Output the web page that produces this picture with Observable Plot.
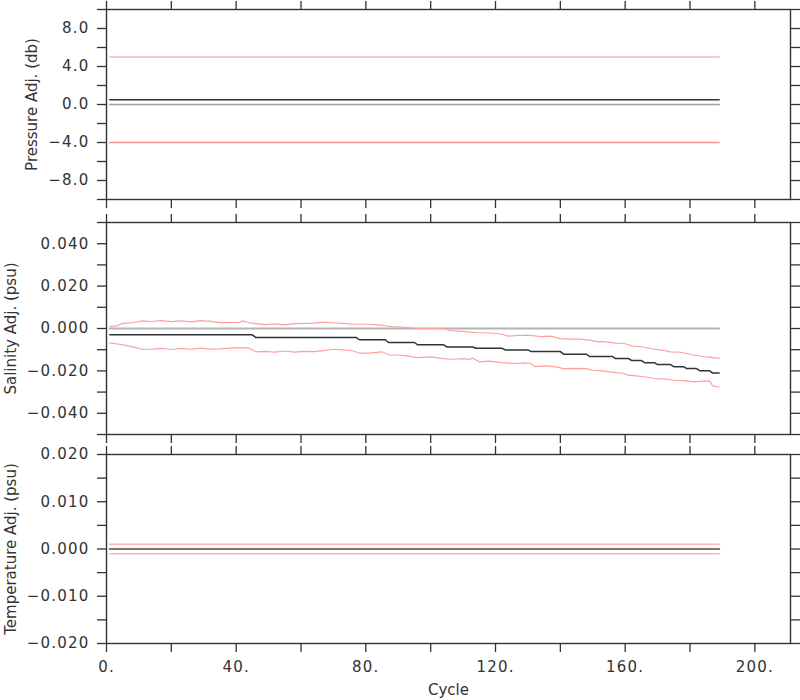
<!DOCTYPE html>
<html>
<head>
<meta charset="utf-8">
<script src="https://cdn.jsdelivr.net/npm/d3@7"></script>
<script src="https://cdn.jsdelivr.net/npm/@observablehq/plot@0.6"></script>
<style>
  html, body { margin: 0; padding: 0; background: #fff; }
  #wrap { position: relative; width: 800px; height: 700px; overflow: hidden; }
  .panel { position: absolute; left: 0; }
  .panel svg { display: block; }
  #wrap g[aria-label="y-axis tick label"] text,
  #wrap g[aria-label="x-axis tick label"] text { font-size: 15px !important; letter-spacing: 1.2px; }
  #wrap g[aria-label="axis-title"] text { font-size: 15px !important; }
</style>
</head>
<body>
<div id="wrap">
  <div class="panel" id="p1" style="top:0px"></div>
  <div class="panel" id="p2" style="top:209px"></div>
  <div class="panel" id="p3" style="top:444px"></div>
</div>
<script>
// ---------- data ----------
const cycleSpan = [1, 189];
const xTicks = [0, 20, 40, 60, 80, 100, 120, 140, 160, 180, 200];
const xLabelTicks = [0, 40, 80, 120, 160, 200];

// Pressure panel
const pressureZero = [0, 0];
const pressureAdj = [0.5, 0.5];
const pressureUpper = [5, 5];
const pressureLower = [-4, -4];
const pressureTicks = [-10, -8, -6, -4, -2, 0, 2, 4, 6, 8, 10];
const pressureLabels = [-8, -4, 0, 4, 8];

// Salinity panel
const salAdjCycles = [1, 45, 46, 77, 78, 86, 87, 95, 96, 104, 105, 113, 114, 122, 123, 130, 131, 140, 141, 148, 149, 156, 157, 161, 162, 165, 166, 169, 170, 174, 175, 178, 179, 182, 183, 186, 187, 189];
const salAdj = [-0.0030, -0.0030, -0.0042, -0.0042, -0.0053, -0.0053, -0.0066, -0.0066, -0.0077, -0.0077, -0.0087, -0.0087, -0.0093, -0.0093, -0.0101, -0.0101, -0.0109, -0.0109, -0.0121, -0.0121, -0.0132, -0.0132, -0.0142, -0.0142, -0.0151, -0.0151, -0.0161, -0.0161, -0.0170, -0.0170, -0.0180, -0.0180, -0.0189, -0.0189, -0.0199, -0.0199, -0.0210, -0.0210];

const salUpperCycles = [1, 3, 5, 8, 11, 14, 17, 20, 23, 26, 29, 32, 35, 38, 41, 42, 44, 46, 49, 52, 55, 58, 61, 64, 67, 70, 73, 76, 80, 84, 86, 88, 92, 96, 100, 104, 106, 110, 114, 118, 122, 124, 127, 130, 134, 137, 140, 143, 146, 149, 151, 154, 157, 160, 162, 165, 169, 172, 174, 177, 179, 181, 184, 186, 188, 189];
const salUpper = [0.0009, 0.0012, 0.0024, 0.0027, 0.0036, 0.0033, 0.0037, 0.0032, 0.0036, 0.0031, 0.0037, 0.0034, 0.0028, 0.0028, 0.0029, 0.0036, 0.0027, 0.0023, 0.0018, 0.0022, 0.0017, 0.0023, 0.0024, 0.0025, 0.0030, 0.0027, 0.0024, 0.0021, 0.0020, 0.0017, 0.0013, 0.0009, 0.0006, 0.0000, 0.0000, 0.0000, -0.0010, -0.0014, -0.0019, -0.0020, -0.0027, -0.0036, -0.0033, -0.0031, -0.0038, -0.0036, -0.0048, -0.0050, -0.0050, -0.0055, -0.0061, -0.0063, -0.0069, -0.0072, -0.0082, -0.0086, -0.0098, -0.0103, -0.0110, -0.0112, -0.0118, -0.0125, -0.0132, -0.0135, -0.0140, -0.0140];

const salLowerCycles = [1, 3, 6, 9, 11, 14, 17, 20, 23, 26, 29, 32, 35, 38, 42, 44, 46, 49, 52, 55, 58, 61, 64, 67, 70, 73, 76, 78, 82, 85, 87, 90, 93, 96, 100, 104, 107, 110, 112, 113, 115, 118, 122, 126, 129, 131, 132, 136, 139, 141, 145, 148, 150, 153, 157, 159, 161, 164, 167, 169, 172, 175, 178, 181, 183, 186, 187, 189];
const salLower = [-0.0069, -0.0072, -0.0080, -0.0090, -0.0098, -0.0097, -0.0094, -0.0099, -0.0094, -0.0098, -0.0093, -0.0097, -0.0096, -0.0093, -0.0090, -0.0093, -0.0110, -0.0108, -0.0111, -0.0106, -0.0111, -0.0108, -0.0109, -0.0104, -0.0098, -0.0101, -0.0105, -0.0117, -0.0115, -0.0110, -0.0124, -0.0125, -0.0130, -0.0137, -0.0134, -0.0142, -0.0145, -0.0142, -0.0146, -0.0140, -0.0157, -0.0154, -0.0161, -0.0165, -0.0162, -0.0165, -0.0180, -0.0176, -0.0182, -0.0189, -0.0188, -0.0189, -0.0197, -0.0200, -0.0208, -0.0210, -0.0220, -0.0225, -0.0230, -0.0236, -0.0238, -0.0244, -0.0246, -0.0252, -0.0249, -0.0247, -0.0271, -0.0276];
const salZero = [0, 0];
const salTicks = [-0.05, -0.04, -0.03, -0.02, -0.01, 0, 0.01, 0.02, 0.03, 0.04, 0.05];
const salLabels = [-0.04, -0.02, 0, 0.02, 0.04];

// Temperature panel
const tempZero = [0, 0];
const tempAdj = [0, 0];
const tempUpper = [0.001, 0.001];
const tempLower = [-0.001, -0.001];
const tempTicks = [-0.020, -0.015, -0.010, -0.005, 0, 0.005, 0.010, 0.015, 0.020];
const tempLabels = [-0.02, -0.01, 0, 0.01, 0.02];

// ---------- helpers ----------
const rows = (xs, ys) => xs.map((c, i) => ({cycle: c, value: ys[i]}));
const INK = "#333";
const GRAY = "#b4b4b4";
const PINK = "#ffb4b4";
const RED = "#ff9090";
const SALRED = "#ffa0a0";
const near = (a, b) => Math.abs(a - b) < 1e-9;

function panel({el, height, marginTop, marginBottom, yDomain, yTicks, yLabels, yFmt, title, titleX, series, bottomLabels}) {
  const marks = [];
  for (const s of series) {
    marks.push(Plot.line(s.data, {x: "cycle", y: "value", stroke: s.color, strokeWidth: s.width || 1.3}));
  }
  marks.push(Plot.frame({stroke: INK, strokeWidth: 1.4}));
  marks.push(Plot.axisY({anchor: "left", ticks: yTicks, tickSize: 9, tickPadding: 8, strokeWidth: 1.3,
    tickFormat: d => yLabels.some(v => near(v, d)) ? yFmt(d) : "", label: null}));
  marks.push(Plot.axisY({anchor: "right", ticks: yTicks, tickSize: 9, strokeWidth: 1.3, tickFormat: () => "", label: null}));
  marks.push(Plot.axisX({anchor: "top", ticks: xTicks, tickSize: 9, strokeWidth: 1.3, tickFormat: () => "", label: null}));
  marks.push(Plot.axisX({anchor: "bottom", ticks: xTicks, tickSize: 9, tickPadding: 9, strokeWidth: 1.3,
    tickFormat: d => bottomLabels && xLabelTicks.includes(d) ? d + "." : "", label: null}));
  marks.push(Plot.text([title], {frameAnchor: "left", rotate: -90, dx: titleX - 106, fill: INK,
    textAnchor: "middle", lineAnchor: "middle", ariaLabel: "axis-title"}));
  if (bottomLabels) {
    marks.push(Plot.text(["Cycle"], {frameAnchor: "bottom", dy: 47, fill: INK, lineAnchor: "middle", ariaLabel: "axis-title"}));
  }
  const svg = Plot.plot({
    width: 800,
    height,
    marginLeft: 106,
    marginRight: 10,
    marginTop,
    marginBottom,
    x: {domain: [0, 211]},
    y: {domain: yDomain},
    style: {fontFamily: "DejaVu Sans", fontSize: "15px", color: INK, background: "#fff"},
    marks
  });
  document.getElementById(el).appendChild(svg);
}

// ---------- panels ----------
panel({
  el: "p1", height: 209, marginTop: 9, marginBottom: 10,
  yDomain: [-10, 10], yTicks: pressureTicks, yLabels: pressureLabels,
  yFmt: d => d.toFixed(1).replace("-", "\u2212"),
  title: "Pressure Adj. (db)", titleX: 32,
  series: [
    {data: rows(cycleSpan, pressureZero), color: "#a0a0a0", width: 1.6},
    {data: rows(cycleSpan, pressureAdj), color: INK, width: 1.5},
    {data: rows(cycleSpan, pressureUpper), color: PINK},
    {data: rows(cycleSpan, pressureLower), color: RED}
  ]
});

panel({
  el: "p2", height: 235, marginTop: 13, marginBottom: 10,
  yDomain: [-0.05, 0.05], yTicks: salTicks, yLabels: salLabels,
  yFmt: d => d.toFixed(3).replace("-", "\u2212"),
  title: "Salinity Adj. (psu)", titleX: 11,
  series: [
    {data: rows(cycleSpan, salZero), color: GRAY, width: 2},
    {data: rows(salAdjCycles, salAdj), color: INK, width: 1.5},
    {data: rows(salUpperCycles, salUpper), color: SALRED, width: 1.2},
    {data: rows(salLowerCycles, salLower), color: SALRED, width: 1.2}
  ]
});

panel({
  el: "p3", height: 256, marginTop: 10, marginBottom: 57,
  yDomain: [-0.02, 0.02], yTicks: tempTicks, yLabels: tempLabels,
  yFmt: d => d.toFixed(3).replace("-", "\u2212"),
  title: "Temperature Adj. (psu)", titleX: 11,
  bottomLabels: true,
  series: [
    {data: rows(cycleSpan, tempAdj), color: INK, width: 1.5},
    {data: rows(cycleSpan, tempZero), color: "#777", width: 2},
    {data: rows(cycleSpan, tempUpper), color: PINK, width: 1.5},
    {data: rows(cycleSpan, tempLower), color: PINK, width: 1.5}
  ]
});
</script>
</body>
</html>
